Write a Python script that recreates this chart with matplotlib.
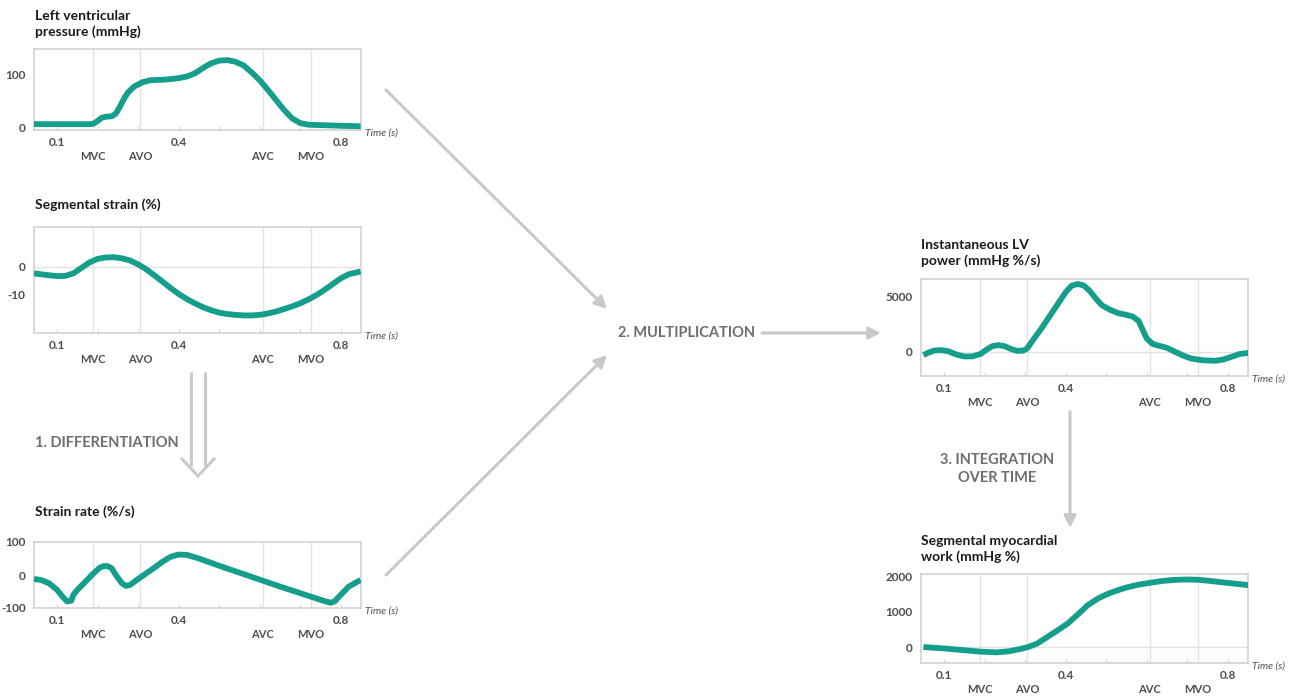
import matplotlib
matplotlib.use("Agg")
import matplotlib.pyplot as plt
from matplotlib.patches import FancyArrowPatch

plt.rcParams["font.family"] = ["Lato", "DejaVu Sans"]

TEAL = "#149e8b"
GRID = "#e2e2e2"
FRAME = "#d2d2d2"
ARROW = "#c9c9c9"

# event markers (s)
events = ["MVC", "AVO", "AVC", "MVO"]
event_t = [0.188, 0.305, 0.607, 0.726]
tick_pos = [0.1, 0.2, 0.3, 0.4, 0.5, 0.6, 0.7, 0.8]
tick_lab = ["0.1", "", "", "0.4", "", "", "", "0.8"]

# LV pressure (mmHg)
p_t = [0.043, 0.10, 0.15, 0.18, 0.19, 0.20, 0.21, 0.22, 0.235, 0.245, 0.255, 0.265, 0.275,
       0.29, 0.31, 0.33, 0.36, 0.38, 0.40, 0.42, 0.44, 0.46, 0.48, 0.50, 0.52, 0.54, 0.56,
       0.58, 0.60, 0.62, 0.64, 0.66, 0.68, 0.70, 0.72, 0.76, 0.80, 0.849]
p_v = [7, 7, 7, 7, 8, 13, 19, 21, 22, 27, 40, 55, 67,
       78, 86, 90, 91, 92, 94, 97, 103, 113, 122, 127, 128, 125, 118,
       105, 90, 72, 53, 34, 18, 9, 6, 5, 4, 3]

# segmental strain (%)
s_t = [0.043, 0.07, 0.10, 0.12, 0.14, 0.16, 0.18, 0.20, 0.22, 0.24, 0.26, 0.28, 0.30, 0.32,
       0.34, 0.36, 0.38, 0.40, 0.42, 0.44, 0.46, 0.48, 0.50, 0.52, 0.54, 0.56, 0.58, 0.60,
       0.62, 0.64, 0.66, 0.68, 0.70, 0.72, 0.74, 0.76, 0.78, 0.80, 0.82, 0.849]
s_v = [-2.5, -3.0, -3.5, -3.4, -2.5, -0.5, 1.5, 2.8, 3.3, 3.4, 3.0, 2.2, 0.8, -1.0,
       -3.2, -5.5, -7.8, -10.0, -11.8, -13.4, -14.8, -15.9, -16.8, -17.3, -17.6, -17.8, -17.8, -17.6,
       -17.1, -16.4, -15.5, -14.5, -13.4, -12.0, -10.4, -8.5, -6.4, -4.3, -2.8, -1.8]

# strain rate (%/s)
r_t = [0.043, 0.06, 0.08, 0.10, 0.115, 0.125, 0.135, 0.14, 0.15, 0.17, 0.19, 0.205, 0.215,
       0.225, 0.235, 0.245, 0.26, 0.27, 0.28, 0.30, 0.32, 0.34, 0.36, 0.38, 0.40, 0.42,
       0.45, 0.50, 0.55, 0.60, 0.65, 0.70, 0.74, 0.76, 0.775, 0.785, 0.80, 0.82, 0.849]
r_v = [-12, -15, -25, -45, -68, -80, -78, -60, -45, -20, 5, 22, 27,
       27, 20, 0, -25, -33, -30, -12, 5, 22, 40, 55, 62, 61,
       50, 28, 7, -14, -35, -55, -71, -79, -84, -80, -60, -35, -15]

# instantaneous LV power (mmHg %/s)
w_t = [0.049, 0.06, 0.075, 0.09, 0.11, 0.13, 0.15, 0.17, 0.19, 0.205, 0.22, 0.235, 0.25,
       0.265, 0.28, 0.295, 0.305, 0.32, 0.34, 0.36, 0.38, 0.40, 0.415, 0.43, 0.445, 0.46,
       0.475, 0.49, 0.51, 0.53, 0.55, 0.565, 0.58, 0.59, 0.60, 0.615, 0.63, 0.65, 0.67,
       0.69, 0.71, 0.74, 0.77, 0.79, 0.81, 0.83, 0.852]
w_v = [-300, -100, 100, 150, 50, -250, -430, -420, -200, 200, 520, 600, 500,
       250, 80, 100, 300, 1100, 2100, 3200, 4300, 5400, 6000, 6150, 6000, 5500,
       4800, 4200, 3800, 3500, 3350, 3200, 2800, 2000, 1200, 700, 550, 350, 0,
       -350, -620, -780, -820, -700, -450, -200, -100]

# segmental myocardial work (mmHg %)
m_t = [0.049, 0.10, 0.15, 0.19, 0.23, 0.26, 0.29, 0.31, 0.33, 0.357, 0.38, 0.406, 0.43,
       0.455, 0.48, 0.50, 0.52, 0.55, 0.58, 0.61, 0.64, 0.67, 0.70, 0.73, 0.76, 0.79,
       0.82, 0.852]
m_v = [0, -40, -90, -130, -150, -120, -50, 10, 100, 300, 470, 670, 920,
       1185, 1370, 1480, 1570, 1680, 1760, 1815, 1865, 1895, 1905, 1895, 1860, 1820,
       1785, 1745]

W, H = 1289, 697
fig = plt.figure(figsize=(W / 100, H / 100), dpi=100)

# overlay in pixel coordinates for titles and arrows
ov = fig.add_axes([0, 0, 1, 1], zorder=0)
ov.set_xlim(0, W); ov.set_ylim(H, 0); ov.axis("off")


def panel(box, t, v, ylim, yticks, zero_line=False):
    x0, y0, x1, y1 = box
    ax = fig.add_axes([x0 / W, 1 - y1 / H, (x1 - x0) / W, (y1 - y0) / H], zorder=2)
    ax.set_xlim(0.043, 0.85); ax.set_ylim(*ylim)
    for sp in ax.spines.values():
        sp.set_color(FRAME); sp.set_linewidth(1.2)
    for et in event_t:
        ax.axvline(et, color=GRID, lw=1, zorder=1)
    if zero_line:
        ax.axhline(0, color=GRID, lw=1, zorder=1)
    ax.plot(t, v, color=TEAL, lw=4.2, solid_capstyle="butt", solid_joinstyle="round", zorder=3)
    ax.set_xticks(tick_pos); ax.set_xticklabels(tick_lab)
    ax.set_yticks(yticks); ax.set_yticklabels([str(y) for y in yticks])
    ax.tick_params(axis="x", direction="in", length=3, color=FRAME, labelsize=8.5,
                   labelcolor="#4d4d4d", pad=5)
    ax.tick_params(axis="y", length=0, labelsize=8.5, labelcolor="#4d4d4d", pad=6)
    for lab in ax.get_xticklabels() + ax.get_yticklabels():
        lab.set_fontweight("bold")
    for name, et in zip(events, event_t):
        ax.annotate(name, xy=(et, 0), xycoords=("data", "axes fraction"), xytext=(0, -19),
                    textcoords="offset points", ha="center", va="center", fontsize=8,
                    color="#4d4d4d", fontweight="bold")
    ax.annotate("Time (s)", xy=(1, 0), xycoords="axes fraction", xytext=(3, -2),
                textcoords="offset points", ha="left", va="center", fontsize=7.5,
                style="italic", color="#4d4d4d")
    return ax


panel((34, 49, 361, 130), p_t, p_v, (-4, 149), [0, 100])
panel((34, 227, 361, 333), s_t, s_v, (-24.2, 14.4), [0, -10], zero_line=True)
panel((34, 542, 361, 608), r_t, r_v, (-100, 100), [100, 0, -100])
panel((921, 279, 1248, 376), w_t, w_v, (-2200, 6600), [5000, 0], zero_line=True)
panel((921, 574, 1248, 663), m_t, m_v, (-450, 2060), [2000, 1000, 0], zero_line=True)

# panel titles
title_kw = dict(fontsize=10, fontweight="bold", color="#1a1a1a", ha="left", va="center",
                linespacing=1.35)
ov.text(35, 24, "Left ventricular\npressure (mmHg)", **title_kw)
ov.text(35, 205, "Segmental strain (%)", **title_kw)
ov.text(35, 512, "Strain rate (%/s)", **title_kw)
ov.text(921, 253, "Instantaneous LV\npower (mmHg %/s)", **title_kw)
ov.text(921, 549, "Segmental myocardial\nwork (mmHg %)", **title_kw)

# step labels
step_kw = dict(fontsize=10.5, fontweight="bold", color="#6e6e6e", va="center")
ov.text(35, 443, "1. DIFFERENTIATION", ha="left", **step_kw)
ov.text(618, 333, "2. MULTIPLICATION", ha="left", **step_kw)
ov.text(997, 469, "3. INTEGRATION\nOVER TIME", ha="center", linespacing=1.3, **step_kw)

# arrows
def arrow(p0, p1):
    ov.add_patch(FancyArrowPatch(p0, p1, arrowstyle="-|>,head_length=6,head_width=3",
                                 color=ARROW, lw=2.2, mutation_scale=1.2, shrinkA=0, shrinkB=0))

arrow((386, 90), (607, 309))
arrow((386, 575), (607, 355))
arrow((762, 333), (881, 333))
arrow((1070, 412), (1070, 528))

# hollow double arrow for differentiation
ov.plot([190.5, 190.5], [372, 466], color=ARROW, lw=2.2, solid_capstyle="butt")
ov.plot([205, 205], [372, 466], color=ARROW, lw=2.2, solid_capstyle="butt")
ov.plot([182, 198, 214], [459, 476, 459], color=ARROW, lw=2.2, solid_joinstyle="miter")

fig.savefig("out.png", dpi=100)
